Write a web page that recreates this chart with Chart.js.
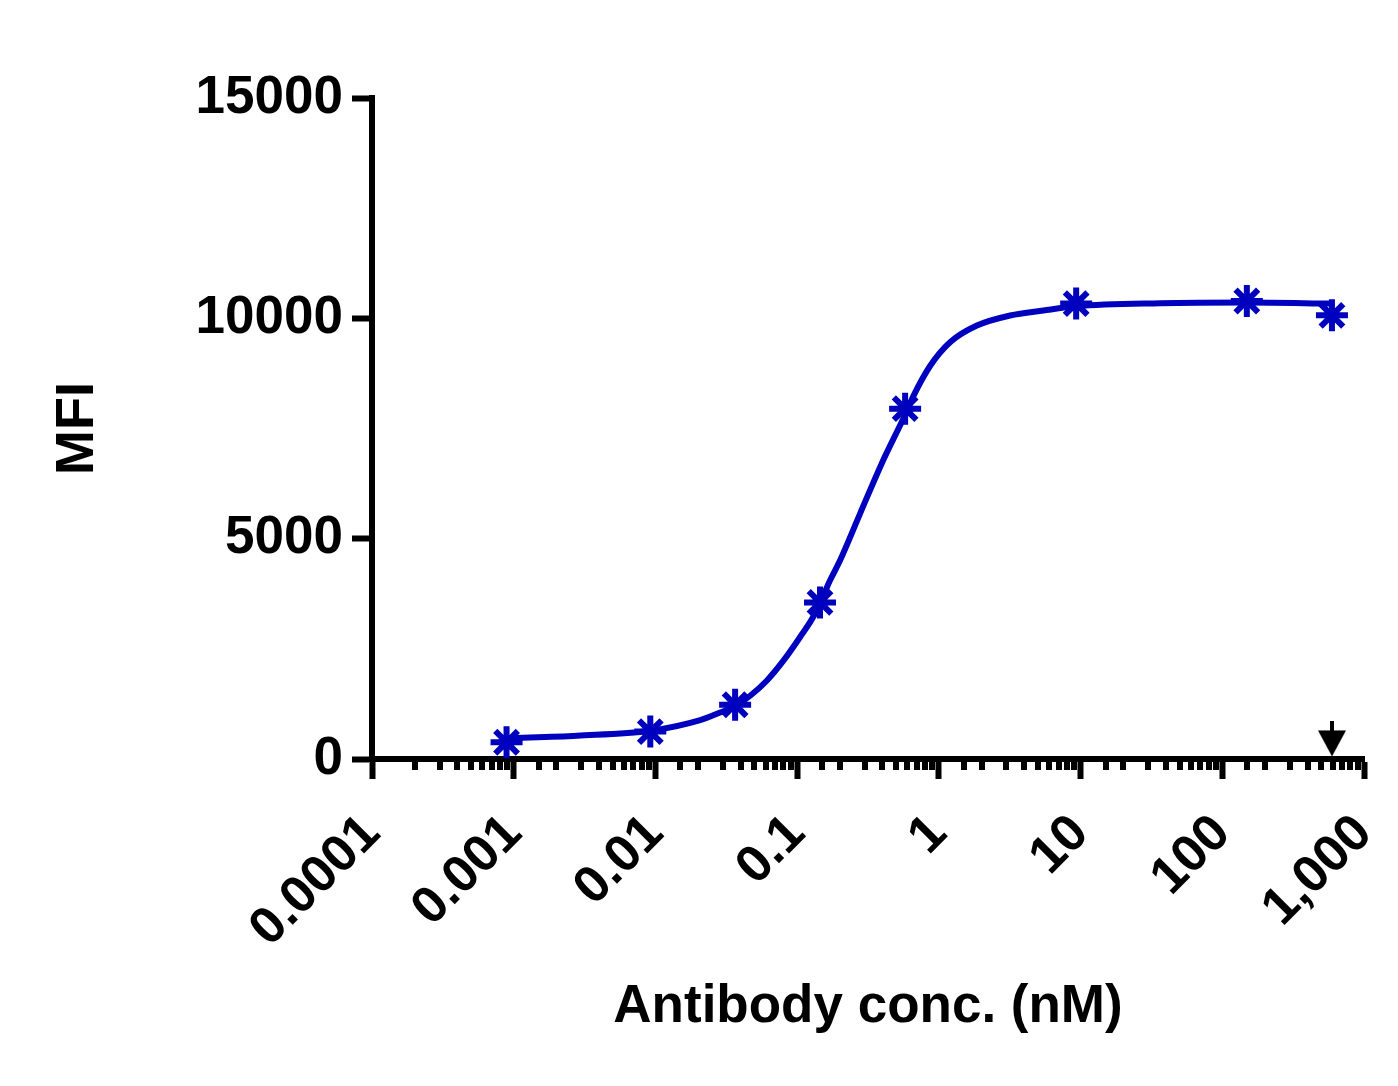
<!DOCTYPE html>
<html>
<head>
<meta charset="utf-8">
<script src="https://cdn.jsdelivr.net/npm/chart.js@4.4.0/dist/chart.umd.min.js"></script>
<style>
  html, body { margin: 0; padding: 0; background: #fff; }
  #wrap { width: 1398px; height: 1086px; }
</style>
</head>
<body>
<div id="wrap"><canvas id="chart" width="1398" height="1086"></canvas></div>
<script>
// measured points (nM, MFI)
const concNM = [0.00089, 0.0092, 0.0365, 0.145, 0.578, 9.31, 149, 594];
const mfi = [380, 622, 1230, 3554, 7950, 10335, 10394, 10068];

// fitted curve
const fitConc = [0.00089, 0.0028, 0.0092, 0.0207, 0.0286, 0.0365, 0.0466, 0.061, 0.080, 0.1047,
  0.1337, 0.1708, 0.201, 0.279, 0.396, 0.578, 0.662, 0.869, 1.20, 1.855,
  3.18, 5.47, 9.31, 36.5, 149, 594];
const fitMfi = [470, 530, 640, 882, 1055, 1200, 1435, 1777, 2232, 2763,
  3296, 4055, 4510, 5581, 6713, 7813, 8242, 8925, 9458, 9836,
  10064, 10178, 10273, 10341, 10357, 10335];

// arrow marker near the x axis
const arrowConc = [594];
const arrowMfi = [444];

const xTickLabels = ['0.0001', '0.001', '0.01', '0.1', '1', '10', '100', '1,000'];
const yTickValues = [0, 5000, 10000, 15000];

const BLUE = '#0000bf';
const FONT = "'Liberation Sans', Arial, sans-serif";

function isDecade(v) {
  const e = Math.log10(v);
  return Math.abs(e - Math.round(e)) < 1e-6;
}

function makeArrow() {
  const c = document.createElement('canvas');
  c.width = 30;
  c.height = 36;
  const g = c.getContext('2d');
  g.fillStyle = '#000';
  g.fillRect(13, 0, 4, 12);
  g.beginPath();
  g.moveTo(1, 9);
  g.lineTo(29, 9);
  g.lineTo(15, 35);
  g.closePath();
  g.fill();
  return c;
}

const minorTicks = {
  id: 'minorTicks',
  afterDraw(chart) {
    const xs = chart.scales.x;
    const ctx = chart.ctx;
    const bottom = chart.chartArea.bottom;
    ctx.save();
    ctx.strokeStyle = '#000';
    ctx.lineWidth = 6;
    xs.ticks.forEach(t => {
      if (isDecade(t.value)) return;
      const px = Math.round(xs.getPixelForValue(t.value));
      ctx.beginPath();
      ctx.moveTo(px, bottom);
      ctx.lineTo(px, bottom + 11);
      ctx.stroke();
    });
    ctx.restore();
  }
};

new Chart(document.getElementById('chart'), {
  type: 'scatter',
  data: {
    datasets: [
      {
        label: 'fit',
        data: fitConc.map((x, i) => ({ x: x, y: fitMfi[i] })),
        showLine: true,
        borderColor: BLUE,
        borderWidth: 6,
        pointRadius: 0,
        cubicInterpolationMode: 'monotone',
        clip: false
      },
      {
        label: 'MFI',
        data: concNM.map((x, i) => ({ x: x, y: mfi[i] })),
        pointStyle: 'star',
        pointRadius: 16,
        borderWidth: 6,
        borderColor: BLUE,
        backgroundColor: BLUE,
        clip: false
      },
      {
        label: 'arrow',
        data: arrowConc.map((x, i) => ({ x: x, y: arrowMfi[i] })),
        pointStyle: makeArrow(),
        pointRadius: 15,
        clip: false
      }
    ]
  },
  options: {
    responsive: false,
    animation: false,
    layout: { padding: { top: 98, right: 34, bottom: 0, left: 0 } },
    plugins: {
      legend: { display: false },
      tooltip: { enabled: false }
    },
    scales: {
      x: {
        type: 'logarithmic',
        min: 0.0001,
        max: 1000,
        grid: {
          drawOnChartArea: false,
          tickLength: 20,
          tickWidth: 6,
          tickColor: ctx => (ctx.tick && isDecade(ctx.tick.value)) ? '#000' : 'rgba(0,0,0,0)'
        },
        border: { display: true, color: '#000', width: 6 },
        ticks: {
          autoSkip: false,
          minRotation: 45,
          maxRotation: 45,
          padding: 24,
          color: '#000',
          font: { family: FONT, size: 52, weight: 'bold' },
          callback: v => isDecade(v) ? xTickLabels[Math.round(Math.log10(v)) + 4] : ''
        },
        title: {
          display: true,
          text: 'Antibody conc. (nM)',
          color: '#000',
          font: { family: FONT, size: 53, weight: 'bold' },
          padding: { top: 0, bottom: 47 }
        },
        afterFit: s => { s.height = 327; s.paddingLeft = 0; s.paddingRight = 0; }
      },
      y: {
        min: 0,
        max: 15000,
        grid: {
          drawOnChartArea: false,
          tickLength: 20,
          tickWidth: 6,
          tickColor: '#000'
        },
        border: { display: true, color: '#000', width: 6 },
        afterBuildTicks: s => { s.ticks = yTickValues.map(v => ({ value: v })); },
        ticks: {
          padding: 9,
          color: '#000',
          font: { family: FONT, size: 53, weight: 'bold' },
          callback: v => String(v)
        },
        title: {
          display: true,
          text: 'MFI',
          color: '#000',
          font: { family: FONT, size: 54, weight: 'bold' },
          padding: { top: 46, bottom: 0 }
        },
        afterFit: s => { s.width = 372; s.paddingTop = 0; s.paddingBottom = 0; }
      }
    }
  },
  plugins: [minorTicks]
});
</script>
</body>
</html>
